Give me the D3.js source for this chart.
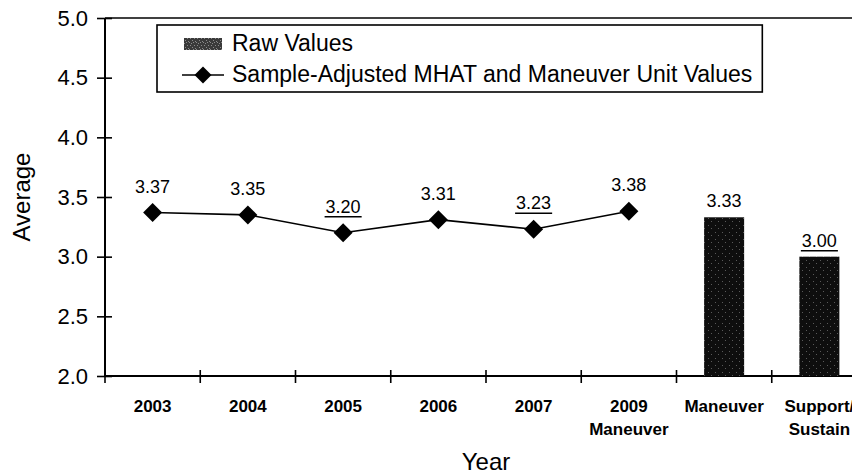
<!DOCTYPE html>
<html lang="en">
<head>
<meta charset="utf-8">
<title>Average by Year</title>
<script src="https://cdn.jsdelivr.net/npm/d3@7"></script>
<style>
  body { margin: 0; background: #fff; }
  text { font-family: "Liberation Sans", Arial, sans-serif; fill: #000; }
</style>
</head>
<body>
<script>
// categories along the x axis (two-line labels split on \n)
const categories = ["2003", "2004", "2005", "2006", "2007", "2009\nManeuver", "Maneuver", "Support/\nSustain"];
// sample-adjusted line series
const lineCats = ["2003", "2004", "2005", "2006", "2007", "2009\nManeuver"];
const lineValues = [3.37, 3.35, 3.20, 3.31, 3.23, 3.38];
const lineUnderlined = [false, false, true, false, true, false];
// raw value bars
const barCats = ["Maneuver", "Support/\nSustain"];
const barValues = [3.33, 3.00];
const barUnderlined = [false, true];
const yTicks = [2.0, 2.5, 3.0, 3.5, 4.0, 4.5, 5.0];
const legendLabels = ["Raw Values", "Sample-Adjusted MHAT and Maneuver Unit Values"];

const width = 852, height = 476;
const mLeft = 105, mRight = 867, mTop = 18, mBottom = 376;

const svg = d3.select("body").append("svg")
  .attr("width", width).attr("height", height);

const defs = svg.append("defs");
function speckle(id, base, dot, dots) {
  const p = defs.append("pattern").attr("id", id)
    .attr("width", 7).attr("height", 7).attr("patternUnits", "userSpaceOnUse");
  p.append("rect").attr("width", 7).attr("height", 7).attr("fill", base);
  dots.forEach(d => p.append("rect").attr("x", d[0]).attr("y", d[1])
    .attr("width", 1).attr("height", 1).attr("fill", dot));
}
speckle("barFill", "#0e0e0e", "#5a5a5a", [[1, 1], [4, 4]]);
speckle("swatchFill", "#3a3a3a", "#8a8a8a", [[0, 0], [2, 1], [4, 0], [5, 3], [1, 3], [3, 5], [6, 6]]);

const x = d3.scaleBand().domain(categories).range([mLeft, mRight]).padding(0);
const xBar = d3.scaleBand().domain(categories).range([mLeft, mRight])
  .paddingInner(0.58).paddingOuter(0.29);
const y = d3.scaleLinear().domain([2, 5]).range([mBottom, mTop]);

// plot frame top
svg.append("line")
  .attr("x1", mLeft).attr("x2", mRight).attr("y1", y(5)).attr("y2", y(5))
  .attr("stroke", "#000").attr("stroke-width", 1.6);

// y axis
const yAxis = svg.append("g").attr("transform", `translate(${mLeft},0)`)
  .call(d3.axisLeft(y).tickValues(yTicks).tickFormat(d3.format(".1f"))
    .tickSize(8).tickPadding(9));
yAxis.select(".domain").attr("stroke-width", 2).attr("d", `M0,${mTop}V${mBottom}`);
yAxis.selectAll(".tick line").attr("x1", 7).attr("stroke-width", 1.6);
yAxis.selectAll(".tick text").style("font-size", "22px")
  .style("font-family", "'Liberation Sans', Arial, sans-serif");

// x axis line + crossing ticks at band boundaries
svg.append("line")
  .attr("x1", mLeft).attr("x2", mRight).attr("y1", mBottom).attr("y2", mBottom)
  .attr("stroke", "#000").attr("stroke-width", 2);
const bounds = categories.map(c => x(c)).concat([x.range()[1]]);
svg.append("g").selectAll("line").data(bounds).join("line")
  .attr("x1", d => d).attr("x2", d => d)
  .attr("y1", mBottom - 6).attr("y2", mBottom + 7)
  .attr("stroke", "#000").attr("stroke-width", 1.6);

// x labels
svg.append("g").selectAll("text").data(categories).join("text")
  .attr("text-anchor", "middle")
  .style("font-size", "17px").style("font-weight", "bold")
  .each(function(c) {
    const t = d3.select(this);
    c.split("\n").forEach((s, i) => {
      t.append("tspan").attr("x", x(c) + x.bandwidth() / 2)
        .attr("y", 412 + i * 23).text(s);
    });
  });

// axis titles
svg.append("text").attr("x", (mLeft + mRight) / 2).attr("y", 470)
  .attr("text-anchor", "middle").style("font-size", "24px").text("Year");
svg.append("text").attr("transform", `translate(30,${(mTop + mBottom) / 2}) rotate(-90)`)
  .attr("text-anchor", "middle").style("font-size", "24px").text("Average");

// bars
svg.append("g").selectAll("rect").data(barCats).join("rect")
  .attr("x", c => xBar(c)).attr("width", xBar.bandwidth())
  .attr("y", (c, i) => y(barValues[i]))
  .attr("height", (c, i) => mBottom - y(barValues[i]))
  .attr("fill", "url(#barFill)");

// line + diamonds
const diamond = r => `M0,${-r}L${r},0L0,${r}L${-r},0Z`;
const pts = lineCats.map((c, i) => [x(c) + x.bandwidth() / 2, y(lineValues[i])]);
svg.append("path").datum(pts)
  .attr("d", d3.line())
  .attr("fill", "none").attr("stroke", "#000").attr("stroke-width", 1.6);
svg.append("g").selectAll("path").data(pts).join("path")
  .attr("transform", d => `translate(${d[0]},${d[1]})`)
  .attr("d", diamond(9.5)).attr("fill", "#000");

// value labels
function valueLabel(g, cx, baseY, v, underline) {
  const t = g.append("text").attr("x", cx).attr("y", baseY)
    .attr("text-anchor", "middle").style("font-size", "18px").text(v.toFixed(2));
  if (underline) {
    const w = t.node().getComputedTextLength();
    g.append("line").attr("x1", cx - w / 2 - 1).attr("x2", cx + w / 2 + 1)
      .attr("y1", baseY + 4).attr("y2", baseY + 4)
      .attr("stroke", "#000").attr("stroke-width", 1.5);
  }
}
const labels = svg.append("g");
pts.forEach((p, i) => valueLabel(labels, p[0], p[1] - 20, lineValues[i], lineUnderlined[i]));
barCats.forEach((c, i) => valueLabel(labels, xBar(c) + xBar.bandwidth() / 2,
  y(barValues[i]) - 10, barValues[i], barUnderlined[i]));

// legend
const lg = svg.append("g");
const box = lg.append("rect").attr("x", 157).attr("y", 25).attr("height", 67)
  .attr("fill", "#fff").attr("stroke", "#000").attr("stroke-width", 1.6);
lg.append("rect").attr("x", 184).attr("y", 38).attr("width", 38).attr("height", 12)
  .attr("fill", "url(#swatchFill)");
lg.append("line").attr("x1", 182).attr("x2", 224).attr("y1", 75).attr("y2", 75)
  .attr("stroke", "#000").attr("stroke-width", 1.6);
lg.append("path").attr("transform", "translate(203,75)").attr("d", diamond(8.5)).attr("fill", "#000");
const lt = lg.selectAll("text.leg").data(legendLabels).join("text")
  .attr("class", "leg").attr("x", 232).attr("y", (d, i) => 51 + i * 31)
  .style("font-size", "23px").text(d => d);
const maxW = d3.max(lt.nodes(), n => n.getComputedTextLength());
box.attr("width", 232 + maxW + 10 - 157);
</script>
</body>
</html>
